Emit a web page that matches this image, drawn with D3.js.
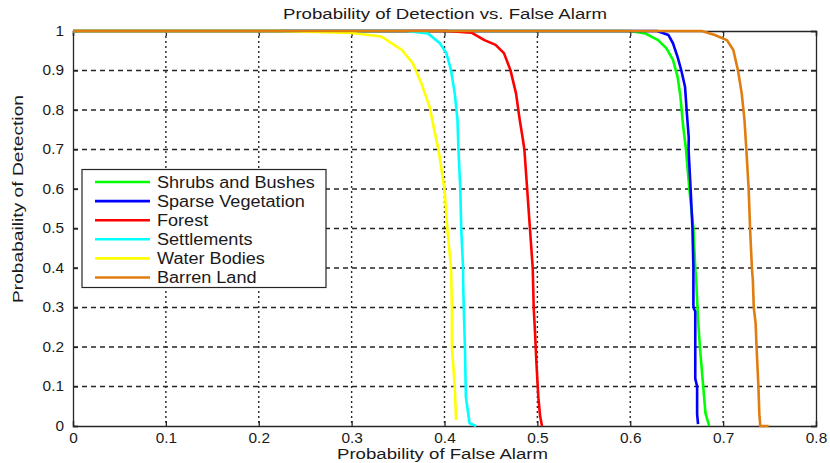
<!DOCTYPE html>
<html>
<head>
<meta charset="utf-8">
<script src="https://cdn.jsdelivr.net/npm/d3@7"></script>
<style>
  html, body { margin: 0; padding: 0; background: #ffffff; }
  svg { display: block; font-family: "Liberation Sans", Arial, sans-serif; }
</style>
</head>
<body>
<svg id="chart" width="830" height="463"></svg>
<script>
// ---------------- data ----------------
const seriesNames = ["Shrubs and Bushes", "Sparse Vegetation", "Forest", "Settlements", "Water Bodies", "Barren Land"];
const seriesColors = ["#00ff00", "#0000ff", "#ff0000", "#00ffff", "#ffff00", "#e07d10"];

const shrubsAndBushes = [[0,1],[0.600,1],[0.616,0.994],[0.630,0.977],[0.639,0.956],[0.646,0.927],[0.651,0.884],[0.654,0.834],[0.657,0.758],[0.660,0.70],[0.6636,0.60],[0.668,0.50],[0.670,0.40],[0.671,0.37],[0.673,0.27],[0.675,0.20],[0.678,0.116],[0.681,0.032],[0.685,0]];
const sparseVegetation = [[0,1],[0.629,1],[0.641,0.99],[0.646,0.969],[0.651,0.934],[0.655,0.90],[0.659,0.858],[0.661,0.79],[0.663,0.73],[0.6628,0.70],[0.665,0.60],[0.667,0.50],[0.668,0.40],[0.668,0.30],[0.670,0.29],[0.670,0.12],[0.672,0.10],[0.672,0.03],[0.673,0.005]];
const forest = [[0,1],[0.402,1],[0.429,0.996],[0.443,0.977],[0.455,0.965],[0.464,0.944],[0.471,0.901],[0.477,0.842],[0.481,0.775],[0.4845,0.724],[0.486,0.70],[0.489,0.60],[0.492,0.50],[0.495,0.40],[0.496,0.302],[0.4975,0.235],[0.499,0.159],[0.501,0.074],[0.503,0.024],[0.505,0]];
const settlements = [[0,1],[0.358,1],[0.382,0.994],[0.395,0.969],[0.402,0.944],[0.407,0.901],[0.411,0.842],[0.414,0.775],[0.415,0.70],[0.417,0.60],[0.418,0.50],[0.420,0.40],[0.420,0.37],[0.421,0.277],[0.422,0.20],[0.423,0.074],[0.427,0.007],[0.434,0]];
const waterBodies = [[0,1],[0.22,1],[0.25,0.998],[0.30,0.995],[0.332,0.986],[0.354,0.952],[0.366,0.918],[0.375,0.868],[0.384,0.808],[0.389,0.749],[0.3935,0.70],[0.400,0.60],[0.403,0.50],[0.407,0.40],[0.408,0.30],[0.408,0.20],[0.411,0.10],[0.4125,0.015]];
const barrenLand = [[0,1],[0.677,1],[0.691,0.99],[0.704,0.977],[0.711,0.952],[0.716,0.90],[0.720,0.842],[0.723,0.775],[0.725,0.70],[0.7275,0.60],[0.729,0.50],[0.731,0.40],[0.732,0.37],[0.733,0.30],[0.735,0.26],[0.736,0.20],[0.738,0.10],[0.739,0.03],[0.740,0],[0.749,0]];
const seriesData = [shrubsAndBushes, sparseVegetation, forest, settlements, waterBodies, barrenLand];

const xTicks = [0, 0.1, 0.2, 0.3, 0.4, 0.5, 0.6, 0.7, 0.8];
const xTickLabels = ["0", "0.1", "0.2", "0.3", "0.4", "0.5", "0.6", "0.7", "0.8"];
const yTicks = [0, 0.1, 0.2, 0.3, 0.4, 0.5, 0.6, 0.7, 0.8, 0.9, 1];
const yTickLabels = ["0", "0.1", "0.2", "0.3", "0.4", "0.5", "0.6", "0.7", "0.8", "0.9", "1"];

const titleText = "Probability of Detection vs. False Alarm";
const xLabelText = "Probability of False Alarm";
const yLabelText = "Probabaility of Detection";

// ---------------- layout ----------------
const L = 73, R = 816, T = 31, B = 426;
const svg = d3.select("#chart");
const x = d3.scaleLinear().domain([0, 0.8]).range([L, R]);
const y = d3.scaleLinear().domain([0, 1]).range([B, T]);
const axisColor = "#262626";

function stretch(sel, factor) {
  sel.each(function () {
    const w = this.getComputedTextLength();
    d3.select(this).attr("textLength", w * factor).attr("lengthAdjust", "spacingAndGlyphs");
  });
}

// grid
const grid = svg.append("g");
grid.selectAll("line.vg").data(xTicks.slice(1, -1)).enter().append("line")
  .attr("x1", d => x(d)).attr("x2", d => x(d)).attr("y1", T).attr("y2", B)
  .attr("stroke", axisColor).attr("stroke-width", 1.4).attr("stroke-dasharray", "2,3");
grid.selectAll("line.hg").data(yTicks.slice(1, -1)).enter().append("line")
  .attr("x1", L).attr("x2", R).attr("y1", d => y(d)).attr("y2", d => y(d))
  .attr("stroke", axisColor).attr("stroke-width", 1.4).attr("stroke-dasharray", "5,4");

// axes (box + inward ticks)
const xAxisB = d3.axisBottom(x).tickValues(xTicks).tickSize(-5).tickFormat((d, i) => xTickLabels[i]);
const xAxisT = d3.axisTop(x).tickValues(xTicks).tickSize(-5).tickFormat("");
const yAxisL = d3.axisLeft(y).tickValues(yTicks).tickSize(-5).tickFormat((d, i) => yTickLabels[i]);
const yAxisR = d3.axisRight(y).tickValues(yTicks).tickSize(-5).tickFormat("");

function styleAxis(g) {
  g.select(".domain").attr("stroke", axisColor).attr("stroke-width", 1.3);
  g.selectAll(".tick line").attr("stroke", axisColor).attr("stroke-width", 1.3);
  g.selectAll(".tick text").attr("fill", "#1a1a1a").style("font-size", "14px")
    .style("font-family", "'Liberation Sans', Arial, sans-serif");
}
const gxB = svg.append("g").attr("transform", `translate(0,${B})`).call(xAxisB.tickPadding(7)).call(styleAxis);
svg.append("g").attr("transform", `translate(0,${T})`).call(xAxisT).call(styleAxis);
const gyL = svg.append("g").attr("transform", `translate(${L},0)`).call(yAxisL.tickPadding(9)).call(styleAxis);
svg.append("g").attr("transform", `translate(${R},0)`).call(yAxisR).call(styleAxis);
stretch(gxB.selectAll(".tick text"), 1.1);
stretch(gyL.selectAll(".tick text"), 1.1);

// curves
const line = d3.line().x(d => x(d[0])).y(d => y(d[1]));
svg.append("g").selectAll("path").data(seriesData).enter().append("path")
  .attr("d", line).attr("fill", "none")
  .attr("stroke", (d, i) => seriesColors[i]).attr("stroke-width", 2.6)
  .attr("stroke-linejoin", "round");

// legend
const lg = svg.append("g");
lg.append("rect").attr("x", 82).attr("y", 169.5).attr("width", 244).attr("height", 118)
  .attr("fill", "#ffffff").attr("stroke", axisColor).attr("stroke-width", 1.2);
const items = lg.selectAll("g.item").data(seriesNames).enter().append("g")
  .attr("transform", (d, i) => `translate(0,${182 + i * 19.1})`);
items.append("line").attr("x1", 95).attr("x2", 150).attr("y1", 0).attr("y2", 0)
  .attr("stroke", (d, i) => seriesColors[i]).attr("stroke-width", 2.6);
const lt = items.append("text").attr("x", 157).attr("y", 5.5).text(d => d)
  .style("font-size", "16px").attr("fill", "#1a1a1a");
stretch(lt, 1.13);

// title & labels
svg.append("text").attr("x", 445).attr("y", 19).attr("text-anchor", "middle")
  .style("font-size", "15.5px").attr("fill", "#1a1a1a").text(titleText)
  .attr("textLength", 324).attr("lengthAdjust", "spacingAndGlyphs");
svg.append("text").attr("x", 442.5).attr("y", 459).attr("text-anchor", "middle")
  .style("font-size", "15.5px").attr("fill", "#1a1a1a").text(xLabelText)
  .attr("textLength", 211).attr("lengthAdjust", "spacingAndGlyphs");
svg.append("text").attr("transform", "translate(23,199) rotate(-90)").attr("text-anchor", "middle")
  .style("font-size", "14px").attr("fill", "#1a1a1a").text(yLabelText)
  .attr("textLength", 208).attr("lengthAdjust", "spacingAndGlyphs");
</script>
</body>
</html>
